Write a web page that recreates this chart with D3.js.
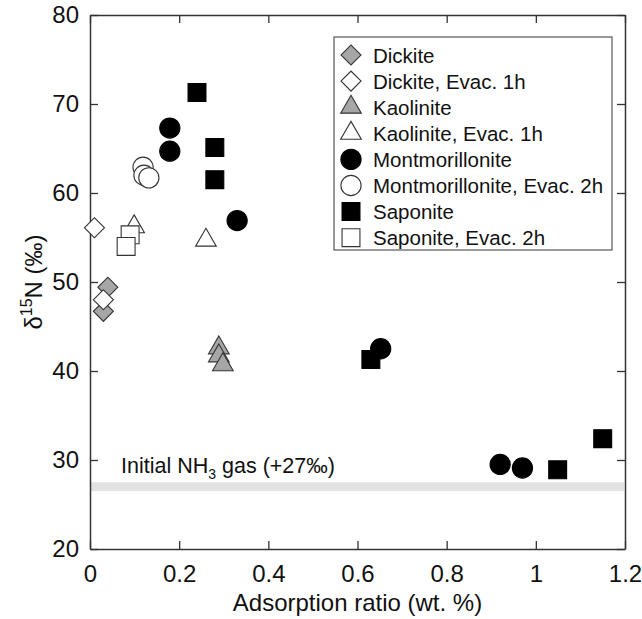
<!DOCTYPE html>
<html><head><meta charset="utf-8">
<script src="https://cdn.jsdelivr.net/npm/d3@7"></script>
<style>body{margin:0;background:#fff}svg{display:block;font-family:"Liberation Sans",Arial,sans-serif}</style>
</head><body><svg id="c" width="642" height="619"></svg>
<script>
const xTicks = [0, 0.2, 0.4, 0.6, 0.8, 1, 1.2];
const yTicks = [20, 30, 40, 50, 60, 70, 80];
const seriesNames = ["Dickite", "Dickite, Evac. 1h", "Kaolinite", "Kaolinite, Evac. 1h", "Montmorillonite", "Montmorillonite, Evac. 2h", "Saponite", "Saponite, Evac. 2h"];
const dickite = [[0.04, 49.4], [0.03, 46.7]];
const dickiteEvac = [[0.01, 56.1], [0.03, 48.0]];
const kaolinite = [[0.289, 42.6], [0.289, 41.7], [0.298, 40.7]];
const kaoliniteEvac = [[0.099, 56.2], [0.26, 54.7]];
const montmorillonite = [[0.179, 67.3], [0.179, 64.7], [0.33, 56.9], [0.652, 42.5], [0.92, 29.5], [0.97, 29.1]];
const montmorilloniteEvac = [[0.119, 62.9], [0.121, 62.0], [0.132, 61.7]];
const saponite = [[0.24, 71.3], [0.28, 65.1], [0.28, 61.5], [0.63, 41.3], [1.049, 28.9], [1.15, 32.4]];
const saponiteEvac = [[0.090, 55.3], [0.081, 54.0]];
const initialGas = 27;

const series = [
  {name: seriesNames[0], data: dickite, shape: "diamond", fill: "#a6a6a6"},
  {name: seriesNames[1], data: dickiteEvac, shape: "diamond", fill: "#fff"},
  {name: seriesNames[2], data: kaolinite, shape: "triangle", fill: "#a6a6a6"},
  {name: seriesNames[3], data: kaoliniteEvac, shape: "triangle", fill: "#fff"},
  {name: seriesNames[4], data: montmorillonite, shape: "circle", fill: "#000"},
  {name: seriesNames[5], data: montmorilloniteEvac, shape: "circle", fill: "#fff"},
  {name: seriesNames[6], data: saponite, shape: "square", fill: "#000"},
  {name: seriesNames[7], data: saponiteEvac, shape: "square", fill: "#fff"}
];

const svg = d3.select("#c");
const L = 90, R = 625, T = 15, B = 549;
const x = d3.scaleLinear().domain([0, 1.2]).range([L, R]);
const y = d3.scaleLinear().domain([20, 80]).range([B, T]);

function symPath(shape) {
  if (shape === "diamond") return d3.symbol().type(d3.symbolSquare).size(200)();
  if (shape === "triangle") return d3.symbol().type(d3.symbolTriangle).size(185)();
  if (shape === "circle") return d3.symbol().type(d3.symbolCircle).size(320)();
  return d3.symbol().type(d3.symbolSquare).size(320)();
}
function rot(shape) { return shape === "diamond" ? " rotate(45)" : ""; }

// initial gas band
svg.append("rect").attr("x", x(0) + 1).attr("width", x(1.2) - x(0) - 2)
  .attr("y", y(initialGas + 0.5)).attr("height", y(initialGas - 0.5) - y(initialGas + 0.5))
  .attr("fill", "#e2e2e2");
const gt = svg.append("text").attr("x", 121).attr("y", 473).attr("font-size", 21.5).attr("fill", "#111");
gt.append("tspan").text("Initial NH");
gt.append("tspan").attr("font-size", 14).attr("dy", 6).text("3");
gt.append("tspan").attr("dy", -6).text(" gas (+27‰)");

// axes
const axB = svg.append("g").attr("transform", `translate(0,${B})`)
  .call(d3.axisBottom(x).tickValues(xTicks).tickSizeInner(-8).tickSizeOuter(0).tickPadding(16).tickFormat(d3.format("")));
const axT = svg.append("g").attr("transform", `translate(0,${T})`)
  .call(d3.axisTop(x).tickValues(xTicks).tickSizeInner(-8).tickSizeOuter(0).tickFormat(""));
const axL = svg.append("g").attr("transform", `translate(${L},0)`)
  .call(d3.axisLeft(y).tickValues(yTicks).tickSizeInner(-8).tickSizeOuter(0).tickPadding(11));
const axR = svg.append("g").attr("transform", `translate(${R},0)`)
  .call(d3.axisRight(y).tickValues(yTicks).tickSizeInner(-8).tickSizeOuter(0).tickFormat(""));
[axB, axT, axL, axR].forEach(a => {
  a.select(".domain").attr("stroke", "#333").attr("stroke-width", 1.5);
  a.selectAll(".tick line").attr("stroke", "#333").attr("stroke-width", 1.3);
  a.selectAll("text").attr("font-size", 24).attr("fill", "#111").attr("font-family", "Liberation Sans, Arial, sans-serif");
});

// points
series.forEach(s => {
  svg.append("g").selectAll("path").data(s.data).join("path")
    .attr("d", symPath(s.shape))
    .attr("transform", d => `translate(${x(d[0])},${y(d[1])})` + rot(s.shape))
    .attr("fill", s.fill)
    .attr("stroke", s.fill === "#000" ? "#000" : "#333")
    .attr("stroke-width", 1.1);
});

// legend
const lg = svg.append("g");
lg.append("rect").attr("x", 334).attr("y", 37).attr("width", 278).attr("height", 213)
  .attr("fill", "#fff").attr("stroke", "#555").attr("stroke-width", 1.2);
series.forEach((s, i) => {
  const cy = 55 + i * 26.1;
  lg.append("path").attr("d", symPath(s.shape))
    .attr("transform", `translate(351,${cy})` + rot(s.shape))
    .attr("fill", s.fill).attr("stroke", s.fill === "#000" ? "#000" : "#333").attr("stroke-width", 1.1);
  lg.append("text").attr("x", 373).attr("y", cy + 7.5).attr("font-size", 20.5).attr("fill", "#111").text(s.name);
});

// axis titles
svg.append("text").attr("x", (L + R) / 2).attr("y", 611).attr("text-anchor", "middle")
  .attr("font-size", 24).attr("fill", "#111").text("Adsorption ratio (wt. %)");
const yl = svg.append("text").attr("transform", `translate(42,${(T + B) / 2}) rotate(-90)`)
  .attr("text-anchor", "middle").attr("font-size", 24).attr("fill", "#111");
yl.append("tspan").text("δ");
yl.append("tspan").attr("font-size", 16).attr("dy", -10).text("15");
yl.append("tspan").attr("dy", 10).text("N (‰)");
</script></body></html>
